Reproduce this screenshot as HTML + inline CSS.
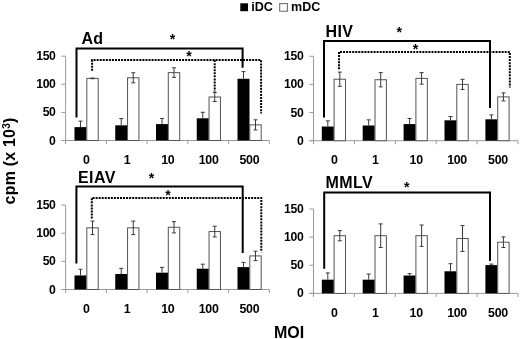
<!DOCTYPE html>
<html><head><meta charset="utf-8"><style>
html,body{margin:0;padding:0;background:#fff;}
svg{display:block;filter:grayscale(1);}
text{font-family:"Liberation Sans", sans-serif;fill:#000;}
</style></head><body>
<svg width="520" height="339" viewBox="0 0 520 339">
<rect width="520" height="339" fill="#fff"/>
<line x1="65.6" y1="56.20" x2="65.6" y2="140.5" stroke="#9a9a9a" stroke-width="1"/>
<line x1="61.40" y1="140.50" x2="65.6" y2="140.50" stroke="#9a9a9a" stroke-width="1"/>
<text x="55.6" y="144.50" font-size="12.2" font-weight="bold" letter-spacing="-0.3" text-anchor="end">0</text>
<line x1="61.40" y1="112.40" x2="65.6" y2="112.40" stroke="#9a9a9a" stroke-width="1"/>
<text x="55.6" y="116.40" font-size="12.2" font-weight="bold" letter-spacing="-0.3" text-anchor="end">50</text>
<line x1="61.40" y1="84.30" x2="65.6" y2="84.30" stroke="#9a9a9a" stroke-width="1"/>
<text x="55.6" y="88.30" font-size="12.2" font-weight="bold" letter-spacing="-0.3" text-anchor="end">100</text>
<line x1="61.40" y1="56.20" x2="65.6" y2="56.20" stroke="#9a9a9a" stroke-width="1"/>
<text x="55.6" y="60.20" font-size="12.2" font-weight="bold" letter-spacing="-0.3" text-anchor="end">150</text>
<line x1="61.40" y1="140.5" x2="269.35" y2="140.5" stroke="#9a9a9a" stroke-width="1"/>
<line x1="65.60" y1="140.5" x2="65.60" y2="144.00" stroke="#9a9a9a" stroke-width="1"/>
<line x1="106.35" y1="140.5" x2="106.35" y2="144.00" stroke="#9a9a9a" stroke-width="1"/>
<line x1="147.10" y1="140.5" x2="147.10" y2="144.00" stroke="#9a9a9a" stroke-width="1"/>
<line x1="187.85" y1="140.5" x2="187.85" y2="144.00" stroke="#9a9a9a" stroke-width="1"/>
<line x1="228.60" y1="140.5" x2="228.60" y2="144.00" stroke="#9a9a9a" stroke-width="1"/>
<line x1="269.35" y1="140.5" x2="269.35" y2="144.00" stroke="#9a9a9a" stroke-width="1"/>
<rect x="74.50" y="127.12" width="12.0" height="13.38" fill="#000"/>
<rect x="86.80" y="78.40" width="11.4" height="62.10" fill="#fff" stroke="#555" stroke-width="1"/>
<path d="M80.50 127.12V121.11M78.50 121.11H82.50" stroke="#3a3a3a" stroke-width="1" fill="none"/>
<path d="M92.50 78.74V78.06M90.50 78.06H94.50M90.50 78.74H94.50" stroke="#3a3a3a" stroke-width="1" fill="none"/>
<text x="86.38" y="163.60" font-size="12.4" font-weight="bold" letter-spacing="-0.3" text-anchor="middle">0</text>
<rect x="115.25" y="125.33" width="12.0" height="15.17" fill="#000"/>
<rect x="127.55" y="77.78" width="11.4" height="62.72" fill="#fff" stroke="#555" stroke-width="1"/>
<path d="M121.25 125.33V118.58M119.25 118.58H123.25" stroke="#3a3a3a" stroke-width="1" fill="none"/>
<path d="M133.25 82.84V72.72M131.25 72.72H135.25M131.25 82.84H135.25" stroke="#3a3a3a" stroke-width="1" fill="none"/>
<text x="127.12" y="163.60" font-size="12.4" font-weight="bold" letter-spacing="-0.3" text-anchor="middle">1</text>
<rect x="156.00" y="124.09" width="12.0" height="16.41" fill="#000"/>
<rect x="168.30" y="72.61" width="11.4" height="67.89" fill="#fff" stroke="#555" stroke-width="1"/>
<path d="M162.00 124.09V118.47M160.00 118.47H164.00" stroke="#3a3a3a" stroke-width="1" fill="none"/>
<path d="M174.00 77.39V67.83M172.00 67.83H176.00M172.00 77.39H176.00" stroke="#3a3a3a" stroke-width="1" fill="none"/>
<text x="167.88" y="163.60" font-size="12.4" font-weight="bold" letter-spacing="-0.3" text-anchor="middle">10</text>
<rect x="196.75" y="118.30" width="12.0" height="22.20" fill="#000"/>
<rect x="209.05" y="97.00" width="11.4" height="43.50" fill="#fff" stroke="#555" stroke-width="1"/>
<path d="M202.75 118.30V112.29M200.75 112.29H204.75" stroke="#3a3a3a" stroke-width="1" fill="none"/>
<path d="M214.75 101.50V92.51M212.75 92.51H216.75M212.75 101.50H216.75" stroke="#3a3a3a" stroke-width="1" fill="none"/>
<text x="208.62" y="163.60" font-size="12.4" font-weight="bold" letter-spacing="-0.3" text-anchor="middle">100</text>
<rect x="237.50" y="78.79" width="12.0" height="61.71" fill="#000"/>
<rect x="249.80" y="124.88" width="11.4" height="15.62" fill="#fff" stroke="#555" stroke-width="1"/>
<path d="M243.50 78.79V71.60M241.50 71.60H245.50" stroke="#3a3a3a" stroke-width="1" fill="none"/>
<path d="M255.50 129.93V119.82M253.50 119.82H257.50M253.50 129.93H257.50" stroke="#3a3a3a" stroke-width="1" fill="none"/>
<text x="249.38" y="163.60" font-size="12.4" font-weight="bold" letter-spacing="-0.3" text-anchor="middle">500</text>
<text x="81.4" y="44.0" font-size="16" font-weight="bold" letter-spacing="0.4">Ad</text>
<path d="M76.5 117.5V48.6H242.6V67.8" stroke="#000" stroke-width="2" fill="none"/>
<path d="M92.1 70.8V60.1H261.1V113.6" stroke="#000" stroke-width="2" fill="none" stroke-dasharray="2 1.05"/>
<path d="M214.7 60.1V91.5" stroke="#000" stroke-width="2" fill="none" stroke-dasharray="2 1.05"/>
<text x="172.50" y="44.00" font-size="14.2" font-weight="bold" text-anchor="middle">*</text>
<text x="189.00" y="61.40" font-size="14.2" font-weight="bold" text-anchor="middle">*</text>
<line x1="313.5" y1="56.25" x2="313.5" y2="140.7" stroke="#9a9a9a" stroke-width="1"/>
<line x1="309.30" y1="140.70" x2="313.5" y2="140.70" stroke="#9a9a9a" stroke-width="1"/>
<text x="303.4" y="144.70" font-size="12.2" font-weight="bold" letter-spacing="-0.3" text-anchor="end">0</text>
<line x1="309.30" y1="112.55" x2="313.5" y2="112.55" stroke="#9a9a9a" stroke-width="1"/>
<text x="303.4" y="116.55" font-size="12.2" font-weight="bold" letter-spacing="-0.3" text-anchor="end">50</text>
<line x1="309.30" y1="84.40" x2="313.5" y2="84.40" stroke="#9a9a9a" stroke-width="1"/>
<text x="303.4" y="88.40" font-size="12.2" font-weight="bold" letter-spacing="-0.3" text-anchor="end">100</text>
<line x1="309.30" y1="56.25" x2="313.5" y2="56.25" stroke="#9a9a9a" stroke-width="1"/>
<text x="303.4" y="60.25" font-size="12.2" font-weight="bold" letter-spacing="-0.3" text-anchor="end">150</text>
<line x1="309.30" y1="140.7" x2="518.00" y2="140.7" stroke="#9a9a9a" stroke-width="1"/>
<line x1="313.50" y1="140.7" x2="313.50" y2="144.20" stroke="#9a9a9a" stroke-width="1"/>
<line x1="354.40" y1="140.7" x2="354.40" y2="144.20" stroke="#9a9a9a" stroke-width="1"/>
<line x1="395.30" y1="140.7" x2="395.30" y2="144.20" stroke="#9a9a9a" stroke-width="1"/>
<line x1="436.20" y1="140.7" x2="436.20" y2="144.20" stroke="#9a9a9a" stroke-width="1"/>
<line x1="477.10" y1="140.7" x2="477.10" y2="144.20" stroke="#9a9a9a" stroke-width="1"/>
<line x1="518.00" y1="140.7" x2="518.00" y2="144.20" stroke="#9a9a9a" stroke-width="1"/>
<rect x="321.80" y="126.51" width="12.0" height="14.19" fill="#000"/>
<rect x="334.10" y="79.22" width="11.4" height="61.48" fill="#fff" stroke="#555" stroke-width="1"/>
<path d="M327.80 126.51V120.88M325.80 120.88H329.80" stroke="#3a3a3a" stroke-width="1" fill="none"/>
<path d="M339.80 86.31V72.13M337.80 72.13H341.80M337.80 86.31H341.80" stroke="#3a3a3a" stroke-width="1" fill="none"/>
<text x="334.35" y="163.80" font-size="12.4" font-weight="bold" letter-spacing="-0.3" text-anchor="middle">0</text>
<rect x="362.70" y="125.50" width="12.0" height="15.20" fill="#000"/>
<rect x="375.00" y="79.73" width="11.4" height="60.97" fill="#fff" stroke="#555" stroke-width="1"/>
<path d="M368.70 125.50V119.87M366.70 119.87H370.70" stroke="#3a3a3a" stroke-width="1" fill="none"/>
<path d="M380.70 86.88V72.58M378.70 72.58H382.70M378.70 86.88H382.70" stroke="#3a3a3a" stroke-width="1" fill="none"/>
<text x="375.25" y="163.80" font-size="12.4" font-weight="bold" letter-spacing="-0.3" text-anchor="middle">1</text>
<rect x="403.60" y="124.09" width="12.0" height="16.61" fill="#000"/>
<rect x="415.90" y="78.38" width="11.4" height="62.32" fill="#fff" stroke="#555" stroke-width="1"/>
<path d="M409.60 124.09V118.46M407.60 118.46H411.60" stroke="#3a3a3a" stroke-width="1" fill="none"/>
<path d="M421.60 84.17V72.58M419.60 72.58H423.60M419.60 84.17H423.60" stroke="#3a3a3a" stroke-width="1" fill="none"/>
<text x="416.15" y="163.80" font-size="12.4" font-weight="bold" letter-spacing="-0.3" text-anchor="middle">10</text>
<rect x="444.50" y="120.32" width="12.0" height="20.38" fill="#000"/>
<rect x="456.80" y="84.40" width="11.4" height="56.30" fill="#fff" stroke="#555" stroke-width="1"/>
<path d="M450.50 120.32V116.49M448.50 116.49H452.50" stroke="#3a3a3a" stroke-width="1" fill="none"/>
<path d="M462.50 89.47V79.33M460.50 79.33H464.50M460.50 89.47H464.50" stroke="#3a3a3a" stroke-width="1" fill="none"/>
<text x="457.05" y="163.80" font-size="12.4" font-weight="bold" letter-spacing="-0.3" text-anchor="middle">100</text>
<rect x="485.40" y="119.31" width="12.0" height="21.39" fill="#000"/>
<rect x="497.70" y="96.90" width="11.4" height="43.80" fill="#fff" stroke="#555" stroke-width="1"/>
<path d="M491.40 119.31V114.91M489.40 114.91H493.40" stroke="#3a3a3a" stroke-width="1" fill="none"/>
<path d="M503.40 100.90V92.90M501.40 92.90H505.40M501.40 100.90H505.40" stroke="#3a3a3a" stroke-width="1" fill="none"/>
<text x="497.95" y="163.80" font-size="12.4" font-weight="bold" letter-spacing="-0.3" text-anchor="middle">500</text>
<text x="325.5" y="36.6" font-size="16" font-weight="bold" letter-spacing="0.4">HIV</text>
<path d="M324 117.5V41.1H490V108.0" stroke="#000" stroke-width="2" fill="none"/>
<path d="M339 69.3V52H509.8V87.5" stroke="#000" stroke-width="2" fill="none" stroke-dasharray="2 1.05"/>
<text x="399.30" y="36.50" font-size="14.2" font-weight="bold" text-anchor="middle">*</text>
<text x="415.60" y="54.10" font-size="14.2" font-weight="bold" text-anchor="middle">*</text>
<line x1="65.6" y1="205.12" x2="65.6" y2="289.5" stroke="#9a9a9a" stroke-width="1"/>
<line x1="61.40" y1="289.50" x2="65.6" y2="289.50" stroke="#9a9a9a" stroke-width="1"/>
<text x="55.6" y="293.50" font-size="12.2" font-weight="bold" letter-spacing="-0.3" text-anchor="end">0</text>
<line x1="61.40" y1="261.38" x2="65.6" y2="261.38" stroke="#9a9a9a" stroke-width="1"/>
<text x="55.6" y="265.38" font-size="12.2" font-weight="bold" letter-spacing="-0.3" text-anchor="end">50</text>
<line x1="61.40" y1="233.25" x2="65.6" y2="233.25" stroke="#9a9a9a" stroke-width="1"/>
<text x="55.6" y="237.25" font-size="12.2" font-weight="bold" letter-spacing="-0.3" text-anchor="end">100</text>
<line x1="61.40" y1="205.12" x2="65.6" y2="205.12" stroke="#9a9a9a" stroke-width="1"/>
<text x="55.6" y="209.12" font-size="12.2" font-weight="bold" letter-spacing="-0.3" text-anchor="end">150</text>
<line x1="61.40" y1="289.5" x2="269.35" y2="289.5" stroke="#9a9a9a" stroke-width="1"/>
<line x1="65.60" y1="289.5" x2="65.60" y2="293.00" stroke="#9a9a9a" stroke-width="1"/>
<line x1="106.35" y1="289.5" x2="106.35" y2="293.00" stroke="#9a9a9a" stroke-width="1"/>
<line x1="147.10" y1="289.5" x2="147.10" y2="293.00" stroke="#9a9a9a" stroke-width="1"/>
<line x1="187.85" y1="289.5" x2="187.85" y2="293.00" stroke="#9a9a9a" stroke-width="1"/>
<line x1="228.60" y1="289.5" x2="228.60" y2="293.00" stroke="#9a9a9a" stroke-width="1"/>
<line x1="269.35" y1="289.5" x2="269.35" y2="293.00" stroke="#9a9a9a" stroke-width="1"/>
<rect x="74.50" y="275.44" width="12.0" height="14.06" fill="#000"/>
<rect x="86.80" y="227.85" width="11.4" height="61.65" fill="#fff" stroke="#555" stroke-width="1"/>
<path d="M80.50 275.44V269.25M78.50 269.25H82.50" stroke="#3a3a3a" stroke-width="1" fill="none"/>
<path d="M92.50 234.60V221.10M90.50 221.10H94.50M90.50 234.60H94.50" stroke="#3a3a3a" stroke-width="1" fill="none"/>
<text x="86.38" y="312.60" font-size="12.4" font-weight="bold" letter-spacing="-0.3" text-anchor="middle">0</text>
<rect x="115.25" y="273.98" width="12.0" height="15.53" fill="#000"/>
<rect x="127.55" y="227.85" width="11.4" height="61.65" fill="#fff" stroke="#555" stroke-width="1"/>
<path d="M121.25 273.98V268.35M119.25 268.35H123.25" stroke="#3a3a3a" stroke-width="1" fill="none"/>
<path d="M133.25 234.60V221.10M131.25 221.10H135.25M131.25 234.60H135.25" stroke="#3a3a3a" stroke-width="1" fill="none"/>
<text x="127.12" y="312.60" font-size="12.4" font-weight="bold" letter-spacing="-0.3" text-anchor="middle">1</text>
<rect x="156.00" y="272.68" width="12.0" height="16.82" fill="#000"/>
<rect x="168.30" y="227.29" width="11.4" height="62.21" fill="#fff" stroke="#555" stroke-width="1"/>
<path d="M162.00 272.68V267.39M160.00 267.39H164.00" stroke="#3a3a3a" stroke-width="1" fill="none"/>
<path d="M174.00 232.91V221.66M172.00 221.66H176.00M172.00 232.91H176.00" stroke="#3a3a3a" stroke-width="1" fill="none"/>
<text x="167.88" y="312.60" font-size="12.4" font-weight="bold" letter-spacing="-0.3" text-anchor="middle">10</text>
<rect x="196.75" y="268.69" width="12.0" height="20.81" fill="#000"/>
<rect x="209.05" y="231.56" width="11.4" height="57.94" fill="#fff" stroke="#555" stroke-width="1"/>
<path d="M202.75 268.69V264.19M200.75 264.19H204.75" stroke="#3a3a3a" stroke-width="1" fill="none"/>
<path d="M214.75 236.91V226.22M212.75 226.22H216.75M212.75 236.91H216.75" stroke="#3a3a3a" stroke-width="1" fill="none"/>
<text x="208.62" y="312.60" font-size="12.4" font-weight="bold" letter-spacing="-0.3" text-anchor="middle">100</text>
<rect x="237.50" y="267.11" width="12.0" height="22.39" fill="#000"/>
<rect x="249.80" y="255.92" width="11.4" height="33.58" fill="#fff" stroke="#555" stroke-width="1"/>
<path d="M243.50 267.11V262.39M241.50 262.39H245.50" stroke="#3a3a3a" stroke-width="1" fill="none"/>
<path d="M255.50 260.64V251.19M253.50 251.19H257.50M253.50 260.64H257.50" stroke="#3a3a3a" stroke-width="1" fill="none"/>
<text x="249.38" y="312.60" font-size="12.4" font-weight="bold" letter-spacing="-0.3" text-anchor="middle">500</text>
<text x="78.0" y="183.0" font-size="16" font-weight="bold" letter-spacing="0.4">EIAV</text>
<path d="M76.4 263.4V186.5H242.7V252.9" stroke="#000" stroke-width="2" fill="none"/>
<path d="M91.8 218.6V198H261.3V252.2" stroke="#000" stroke-width="2" fill="none" stroke-dasharray="2 1.05"/>
<text x="151.50" y="182.70" font-size="14.2" font-weight="bold" text-anchor="middle">*</text>
<text x="167.90" y="199.90" font-size="14.2" font-weight="bold" text-anchor="middle">*</text>
<line x1="313.5" y1="209.02" x2="313.5" y2="293.4" stroke="#9a9a9a" stroke-width="1"/>
<line x1="309.30" y1="293.40" x2="313.5" y2="293.40" stroke="#9a9a9a" stroke-width="1"/>
<text x="303.4" y="297.40" font-size="12.2" font-weight="bold" letter-spacing="-0.3" text-anchor="end">0</text>
<line x1="309.30" y1="265.27" x2="313.5" y2="265.27" stroke="#9a9a9a" stroke-width="1"/>
<text x="303.4" y="269.27" font-size="12.2" font-weight="bold" letter-spacing="-0.3" text-anchor="end">50</text>
<line x1="309.30" y1="237.15" x2="313.5" y2="237.15" stroke="#9a9a9a" stroke-width="1"/>
<text x="303.4" y="241.15" font-size="12.2" font-weight="bold" letter-spacing="-0.3" text-anchor="end">100</text>
<line x1="309.30" y1="209.02" x2="313.5" y2="209.02" stroke="#9a9a9a" stroke-width="1"/>
<text x="303.4" y="213.02" font-size="12.2" font-weight="bold" letter-spacing="-0.3" text-anchor="end">150</text>
<line x1="309.30" y1="293.4" x2="518.00" y2="293.4" stroke="#9a9a9a" stroke-width="1"/>
<line x1="313.50" y1="293.4" x2="313.50" y2="296.90" stroke="#9a9a9a" stroke-width="1"/>
<line x1="354.40" y1="293.4" x2="354.40" y2="296.90" stroke="#9a9a9a" stroke-width="1"/>
<line x1="395.30" y1="293.4" x2="395.30" y2="296.90" stroke="#9a9a9a" stroke-width="1"/>
<line x1="436.20" y1="293.4" x2="436.20" y2="296.90" stroke="#9a9a9a" stroke-width="1"/>
<line x1="477.10" y1="293.4" x2="477.10" y2="296.90" stroke="#9a9a9a" stroke-width="1"/>
<line x1="518.00" y1="293.4" x2="518.00" y2="296.90" stroke="#9a9a9a" stroke-width="1"/>
<rect x="321.80" y="279.67" width="12.0" height="13.72" fill="#000"/>
<rect x="334.10" y="235.69" width="11.4" height="57.71" fill="#fff" stroke="#555" stroke-width="1"/>
<path d="M327.80 279.67V272.92M325.80 272.92H329.80" stroke="#3a3a3a" stroke-width="1" fill="none"/>
<path d="M339.80 240.75V230.62M337.80 230.62H341.80M337.80 240.75H341.80" stroke="#3a3a3a" stroke-width="1" fill="none"/>
<text x="334.35" y="316.50" font-size="12.4" font-weight="bold" letter-spacing="-0.3" text-anchor="middle">0</text>
<rect x="362.70" y="279.67" width="12.0" height="13.72" fill="#000"/>
<rect x="375.00" y="235.69" width="11.4" height="57.71" fill="#fff" stroke="#555" stroke-width="1"/>
<path d="M368.70 279.67V274.05M366.70 274.05H370.70" stroke="#3a3a3a" stroke-width="1" fill="none"/>
<path d="M380.70 247.50V223.88M378.70 223.88H382.70M378.70 247.50H382.70" stroke="#3a3a3a" stroke-width="1" fill="none"/>
<text x="375.25" y="316.50" font-size="12.4" font-weight="bold" letter-spacing="-0.3" text-anchor="middle">1</text>
<rect x="403.60" y="275.51" width="12.0" height="17.89" fill="#000"/>
<rect x="415.90" y="235.69" width="11.4" height="57.71" fill="#fff" stroke="#555" stroke-width="1"/>
<path d="M409.60 275.51V273.60M407.60 273.60H411.60" stroke="#3a3a3a" stroke-width="1" fill="none"/>
<path d="M421.60 246.37V225.00M419.60 225.00H423.60M419.60 246.37H423.60" stroke="#3a3a3a" stroke-width="1" fill="none"/>
<text x="416.15" y="316.50" font-size="12.4" font-weight="bold" letter-spacing="-0.3" text-anchor="middle">10</text>
<rect x="444.50" y="271.29" width="12.0" height="22.11" fill="#000"/>
<rect x="456.80" y="238.50" width="11.4" height="54.90" fill="#fff" stroke="#555" stroke-width="1"/>
<path d="M450.50 271.29V263.70M448.50 263.70H452.50" stroke="#3a3a3a" stroke-width="1" fill="none"/>
<path d="M462.50 251.44V225.56M460.50 225.56H464.50M460.50 251.44H464.50" stroke="#3a3a3a" stroke-width="1" fill="none"/>
<text x="457.05" y="316.50" font-size="12.4" font-weight="bold" letter-spacing="-0.3" text-anchor="middle">100</text>
<rect x="485.40" y="265.11" width="12.0" height="28.29" fill="#000"/>
<rect x="497.70" y="242.21" width="11.4" height="51.19" fill="#fff" stroke="#555" stroke-width="1"/>
<path d="M491.40 265.11V264.09M489.40 264.09H493.40" stroke="#3a3a3a" stroke-width="1" fill="none"/>
<path d="M503.40 247.50V236.92M501.40 236.92H505.40M501.40 247.50H505.40" stroke="#3a3a3a" stroke-width="1" fill="none"/>
<text x="497.95" y="316.50" font-size="12.4" font-weight="bold" letter-spacing="-0.3" text-anchor="middle">500</text>
<text x="325.6" y="187.8" font-size="16" font-weight="bold" letter-spacing="0.4">MMLV</text>
<path d="M324.2 268.8V192.6H490.0V261.0" stroke="#000" stroke-width="2" fill="none"/>
<text x="406.80" y="191.50" font-size="14.2" font-weight="bold" text-anchor="middle">*</text>
<rect x="240.3" y="3.3" width="7.7" height="7.9" fill="#000"/>
<text x="251.2" y="11.0" font-size="12.6" font-weight="bold">iDC</text>
<rect x="279.7" y="3.6" width="7.7" height="7.6" fill="#fff" stroke="#666" stroke-width="1"/>
<text x="291.1" y="11.0" font-size="12.5" font-weight="bold">mDC</text>
<text transform="translate(14.9 204.4) rotate(-90)" font-size="16" font-weight="bold" letter-spacing="0.2">cpm (x 10<tspan font-size="10" dy="-4.6">3</tspan><tspan dy="4.6">)</tspan></text>
<text x="273.9" y="337.5" font-size="16" font-weight="bold">MOI</text>
</svg>
</body></html>
